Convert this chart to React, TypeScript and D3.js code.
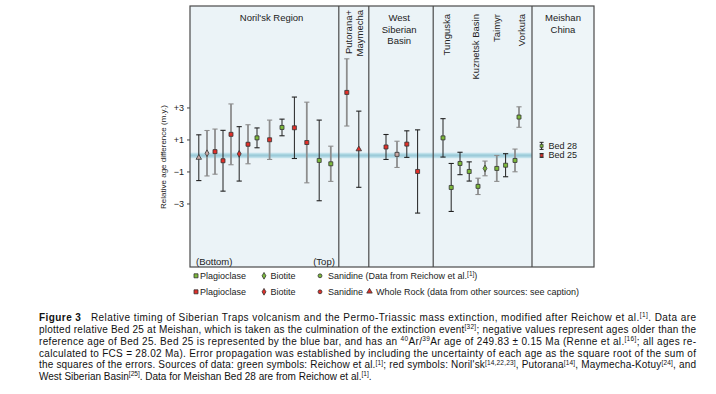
import { useEffect, useRef } from "react";
import * as d3 from "d3";

// sample positions along the x axis (section order, arbitrary units)
const samplePos = [
  2.2, 4.25, 6.25, 8.25, 10.25, 12.3, 14.5, 16.75, 19.9, 23, 26.1, 29.2, 32.3, 35.2,
  39.2, 42.2,
  49, 51.75, 54.2, 56.9,
  63.25, 65.3, 67.5, 69.8, 72, 73.75, 76.7, 78.9, 81.25, 82.25,
];
// age relative to Bed 25 (m.y.)
const sampleAge = [
  -0.14, 0.14, 0.24, -0.33, 1.32, 0.1, 0.7, 1.1, 0.98, 1.75, 1.73, 0.81, -0.31, -0.52,
  3.94, 0.39,
  0.53, 0.07, 0.71, -1.0,
  1.1, -2.0, -0.5, -1.0, -1.93, -0.81, -0.81, -0.61, -0.31, 2.4,
];
const sampleErr = [
  1.43, 1.42, 1.41, 1.9, 1.9, 1.7, 1.22, 0.62, 1.23, 0.52, 1.92, 2.52, 2.52, 1.1,
  2.1, 2.38,
  0.78, 0.82, 0.83, 2.6,
  1.2, 1.5, 0.7, 0.6, 0.51, 0.46, 0.81, 0.72, 0.71, 0.64,
];
const sampleMineral = [
  "wr", "bt", "pl", "pl", "pl", "bt", "pl", "pl", "pl", "pl", "pl", "pl", "pl", "pl",
  "pl", "wr",
  "pl", "pl", "pl", "pl",
  "pl", "pl", "pl", "pl", "pl", "bt", "pl", "pl", "pl", "pl",
];
const sampleSource = [
  "faded", "faded", "red", "red", "red", "red", "red", "green", "red", "green", "red", "red", "green", "green",
  "red", "red",
  "red", "faded", "red", "red",
  "green", "green", "green", "green", "green", "green", "green", "green", "green", "green",
];
const sampleBar = [
  "d", "g", "g", "d", "g", "d", "g", "d", "g", "d", "d", "g", "d", "g",
  "g", "d",
  "d", "g", "d", "d",
  "d", "d", "d", "d", "g", "g", "g", "d", "g", "g",
];

const bedNames = ["Bed 28", "Bed 25"];
const bedAge = [0.6, 0];
const bedErr = [0.22, 0.12];
const bedSource = ["green", "red"];
const bedPos = 87.9;

const panelBreaks = [37.2, 44.7, 60.8, 85.5];
const flatTitles = [
  { lines: ["Noril'sk Region"], pos: 20.4 },
  { lines: ["West", "Siberian", "Basin"], pos: 52.3 },
  { lines: ["Meishan", "China"], pos: 93.25 },
];
const rotTitles = [
  { text: "Putorana+", pos: 39.5, top: 10 },
  { text: "Maymecha", pos: 42.25, top: 10 },
  { text: "Tunguska", pos: 64, top: 14 },
  { text: "Kuznetsk Basin", pos: 71.25, top: 14 },
  { text: "Taimyr", pos: 76.7, top: 14 },
  { text: "Vorkuta", pos: 82.9, top: 14 },
];

const yTicks = [3, 1, -1, -3];
const bandHalf = 0.17;

const captionLines: [string, string][][] = [
  [["Figure 3", "b"], ["   Relative timing of Siberian Traps volcanism and the Permo-Triassic mass extinction, modified after Reichow et al.", "n"], ["[1]", "s"], [". Data are", "n"]],
  [["plotted relative Bed 25 at Meishan, which is taken as the culmination of the extinction event", "n"], ["[32]", "s"], ["; negative values represent ages older than the", "n"]],
  [["reference age of Bed 25. Bed 25 is represented by the blue bar, and has an ", "n"], ["40", "s"], ["Ar/", "n"], ["39", "s"], ["Ar age of 249.83 ± 0.15 Ma (Renne et al.", "n"], ["[16]", "s"], ["; all ages re-", "n"]],
  [["calculated to FCS = 28.02 Ma). Error propagation was established by including the uncertainty of each age as the square root of the sum of", "n"]],
  [["the squares of the errors. Sources of data: green symbols: Reichow et al.", "n"], ["[1]", "s"], ["; red symbols: Noril'sk", "n"], ["[14,22,23]", "s"], [", Putorana", "n"], ["[14]", "s"], [", Maymecha-Kotuy", "n"], ["[24]", "s"], [", and", "n"]],
  [["West Siberian Basin", "n"], ["[25]", "s"], [". Data for Meishan Bed 28 are from Reichow et al.", "n"], ["[1]", "s"], [".", "n"]],
];

const FONT = "'Liberation Sans', Arial, sans-serif";
const fills: Record<string, string> = { red: "#e2302a", green: "#7dba3b", faded: "#c9aaa6" };
const shapes: Record<string, d3.SymbolType> = {
  pl: d3.symbolSquare,
  bt: d3.symbolDiamond,
  sa: d3.symbolCircle,
  wr: d3.symbolTriangle,
};
const sizes: Record<string, number> = { pl: 16, bt: 13, sa: 12, wr: 13 };

function Marker({ x, y, m, src }: { x: number; y: number; m: string; src: string }) {
  const path = d3.symbol().type(shapes[m]).size(sizes[m])() || "";
  return (
    <path d={path} transform={`translate(${x},${y})`} fill={fills[src]} stroke="#333" strokeWidth={0.8} />
  );
}

export default function App() {
  const axisRef = useRef<SVGGElement>(null);

  const x = d3.scaleLinear().domain([0, 101]).range([190, 594]);
  const y = d3.scaleLinear().domain([-6.97, 9.34]).range([267, 6]);

  useEffect(() => {
    if (!axisRef.current) return;
    const g = d3.select(axisRef.current);
    g.selectAll("*").remove();
    g.call(
      d3
        .axisLeft(y)
        .tickValues(yTicks)
        .tickSize(3)
        .tickPadding(3)
        .tickFormat((d) => ((d as number) > 0 ? `+${d}` : `\u2212${Math.abs(d as number)}`))
    );
    g.select(".domain").remove();
    g.selectAll("line").attr("stroke", "#444");
    g.selectAll("text").attr("font-family", FONT).attr("font-size", 9).attr("fill", "#222");
  }, []);

  const x0 = x(0);
  const x1 = x(101);
  const capW = 2.6;

  return (
    <svg width={716} height={394} style={{ position: "absolute", left: 0, top: 0, background: "#fff" }} fontFamily={FONT}>
      <rect x={x0} y={y(9.34)} width={x1 - x0} height={y(-6.97) - y(9.34)} fill="#ebf3f7" />
      <rect x={x(panelBreaks[3])} y={y(9.34)} width={x1 - x(panelBreaks[3])} height={y(-6.97) - y(9.34)} fill="#eef5f8" />

      {/* Bed 25 band */}
      <rect x={x0} y={y(bandHalf)} width={x(panelBreaks[3]) - x0} height={y(-bandHalf) - y(bandHalf)} fill="#bfe0ea" />
      <rect x={x0} y={y(0.07)} width={x(panelBreaks[3]) - x0} height={y(-0.07) - y(0.07)} fill="#9ccbd9" />

      {/* error bars */}
      {samplePos.map((p, i) => {
        const cx = x(p);
        const top = y(sampleAge[i] + sampleErr[i]);
        const bot = y(sampleAge[i] - sampleErr[i]);
        const gray = sampleBar[i] === "g";
        const col = gray ? "#8d8d8d" : "#222";
        const w = gray ? 1.8 : 1;
        return (
          <g key={i}>
            <line x1={cx} x2={cx} y1={top} y2={bot} stroke={col} strokeWidth={w} />
            <line x1={cx - capW} x2={cx + capW} y1={top} y2={top} stroke={col} strokeWidth={1.1} />
            <line x1={cx - capW} x2={cx + capW} y1={bot} y2={bot} stroke={col} strokeWidth={1.1} />
          </g>
        );
      })}
      {samplePos.map((p, i) => (
        <Marker key={i} x={x(p)} y={y(sampleAge[i])} m={sampleMineral[i]} src={sampleSource[i]} />
      ))}

      {/* Meishan beds */}
      {bedNames.map((name, i) => {
        const cx = x(bedPos);
        const top = y(bedAge[i] + bedErr[i]);
        const bot = y(bedAge[i] - bedErr[i]);
        return (
          <g key={name}>
            <line x1={cx} x2={cx} y1={top} y2={bot} stroke="#222" strokeWidth={1} />
            <line x1={cx - 2} x2={cx + 2} y1={top} y2={top} stroke="#222" />
            <line x1={cx - 2} x2={cx + 2} y1={bot} y2={bot} stroke="#222" />
            <path
              d={d3.symbol().type(d3.symbolSquare).size(9)() || ""}
              transform={`translate(${cx},${y(bedAge[i])})`}
              fill={fills[bedSource[i]]}
              stroke="#333"
              strokeWidth={0.7}
            />
            <text x={cx + 7} y={y(bedAge[i])} dy="0.33em" fontSize={9} fill="#222">
              {name}
            </text>
          </g>
        );
      })}

      {/* panel dividers and frame */}
      {panelBreaks.map((b) => (
        <line key={b} x1={x(b)} x2={x(b)} y1={y(9.34)} y2={y(-6.97)} stroke="#4a4a4a" strokeWidth={1.2} />
      ))}
      <rect x={x0} y={y(9.34)} width={x1 - x0} height={y(-6.97) - y(9.34)} fill="none" stroke="#4a4a4a" strokeWidth={1.2} />

      {/* panel titles */}
      {flatTitles.map((t) => (
        <text key={t.pos} x={x(t.pos)} y={21} textAnchor="middle" fontSize={9.5} fill="#222">
          {t.lines.map((l, j) => (
            <tspan key={j} x={x(t.pos)} dy={j === 0 ? 0 : 11.7}>
              {l}
            </tspan>
          ))}
        </text>
      ))}
      {rotTitles.map((t) => (
        <text
          key={t.text}
          transform={`translate(${x(t.pos)},${t.top}) rotate(-90)`}
          textAnchor="end"
          dominantBaseline="central"
          fontSize={9.5}
          fill="#222"
        >
          {t.text}
        </text>
      ))}
      <text x={x(1.5)} y={265} fontSize={9.5} fill="#222">(Bottom)</text>
      <text x={x(30.8)} y={265} fontSize={9.5} fill="#222">(Top)</text>

      {/* y axis */}
      <g ref={axisRef} transform={`translate(${x0},0)`} />
      <text transform={`translate(163,${y(-0.1)}) rotate(-90)`} textAnchor="middle" dominantBaseline="central" fontSize={8} fill="#222">
        Relative age difference (m.y.)
      </text>

      {/* legend */}
      <g fontSize={9} fill="#222">
        <Marker x={196} y={275.8} m="pl" src="green" />
        <text x={200} y={279}>Plagioclase</text>
        <Marker x={264} y={275.8} m="bt" src="green" />
        <text x={270.5} y={279}>Biotite</text>
        <Marker x={320} y={275.8} m="sa" src="green" />
        <text x={328} y={279}>
          Sanidine (Data from Reichow et al.<tspan fontSize={6.5} dy={-3.5}>[1]</tspan>
          <tspan dy={3.5}>)</tspan>
        </text>
        <Marker x={196} y={291.8} m="pl" src="red" />
        <text x={200} y={295}>Plagioclase</text>
        <Marker x={264} y={291.8} m="bt" src="red" />
        <text x={270.5} y={295}>Biotite</text>
        <Marker x={320} y={291.8} m="sa" src="red" />
        <text x={328} y={295}>Sanidine</text>
        <Marker x={369.5} y={291.5} m="wr" src="red" />
        <text x={376} y={295}>Whole Rock (data from other sources: see caption)</text>
      </g>

      {/* caption */}
      <g fontSize={10} fill="#111">
        {captionLines.map((segs, li) => {
          const last = li === captionLines.length - 1;
          let shifted = false;
          return (
            <text
              key={li}
              x={39}
              y={321 + li * 11.85}
              style={{ whiteSpace: "pre" }}
              {...(last ? {} : { textLength: 657, lengthAdjust: "spacing" })}
            >
              {segs.map(([t, k], j) => {
                let dy = 0;
                if (k === "s" && !shifted) {
                  dy = -3.8;
                  shifted = true;
                } else if (k !== "s" && shifted) {
                  dy = 3.8;
                  shifted = false;
                }
                return (
                  <tspan key={j} dy={dy} fontWeight={k === "b" ? "bold" : undefined} fontSize={k === "s" ? 6.5 : undefined}>
                    {t}
                  </tspan>
                );
              })}
            </text>
          );
        })}
      </g>
    </svg>
  );
}
